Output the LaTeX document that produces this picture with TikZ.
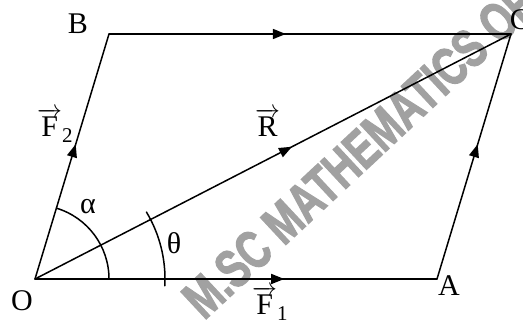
\documentclass[tikz,border=0pt]{standalone}
\usepackage{amsmath}
\usepackage{fontspec}
\setmainfont{Liberation Serif}
\newfontfamily\wmfont{Liberation Sans}[BoldFeatures={FakeBold=2.5}]
\usetikzlibrary{arrows.meta,decorations.markings,calc}
\begin{document}
\begin{tikzpicture}[x=1pt,y=1pt,
  edge/.style={line width=1.5pt,line cap=round,line join=round},
  midarrow/.style={postaction={decorate,decoration={markings,
     mark=at position #1 with {\arrow{Triangle[length=13pt,width=10pt]}}}}},
  lbl/.style={font=\fontsize{30}{32}\selectfont,inner sep=0pt}]
\useasboundingbox (0,0) rectangle (523,324);
% watermark (behind)
\node[rotate=43,xscale=0.726,text=black!37,font=\wmfont\bfseries\fontsize{54}{54}\selectfont,inner sep=0pt] (wm) at (359,173) {M.SC MATHEMATICS OF};
\coordinate (O) at (35,45);
\coordinate (A) at (437,45);
\coordinate (B) at (109,290);
\coordinate (C) at (511,290);
% sides
\draw[edge,midarrow=0.62] (O) -- (A);
\draw[edge,midarrow=0.55] (O) -- (B);
\draw[edge,midarrow=0.44] (B) -- (C);
\draw[edge,midarrow=0.55] (A) -- (C);
\draw[edge,midarrow=0.54] (O) -- (C);
% angle arcs
\draw[edge] ($(O)+(0:74)$) arc[start angle=0,end angle=73.2,radius=74];
\draw[edge] ($(O)+(-3:130)$) arc[start angle=-3,end angle=31,radius=130];
% labels
\node[lbl] (lB) at (78,300) {B};
\node[lbl] (lC) at (520,304) {C};
\node[lbl] (lO) at (22,23) {O};
\node[lbl] (lA) at (449,38) {A};
\node[lbl,anchor=base west] (lF1) at (252,9) {$\overrightarrow{\text{F}}_{\text{1}}$};
\node[lbl,anchor=base west] (lF2) at (37,187) {$\overrightarrow{\text{F}}_{\text{2}}$};
\node[lbl,anchor=base west] (lR) at (255,187) {$\overrightarrow{\text{R}}$};
\node[lbl] (la) at (88,117) {α};
\node[lbl] (lt) at (174,81) {θ};
\end{tikzpicture}
\end{document}
